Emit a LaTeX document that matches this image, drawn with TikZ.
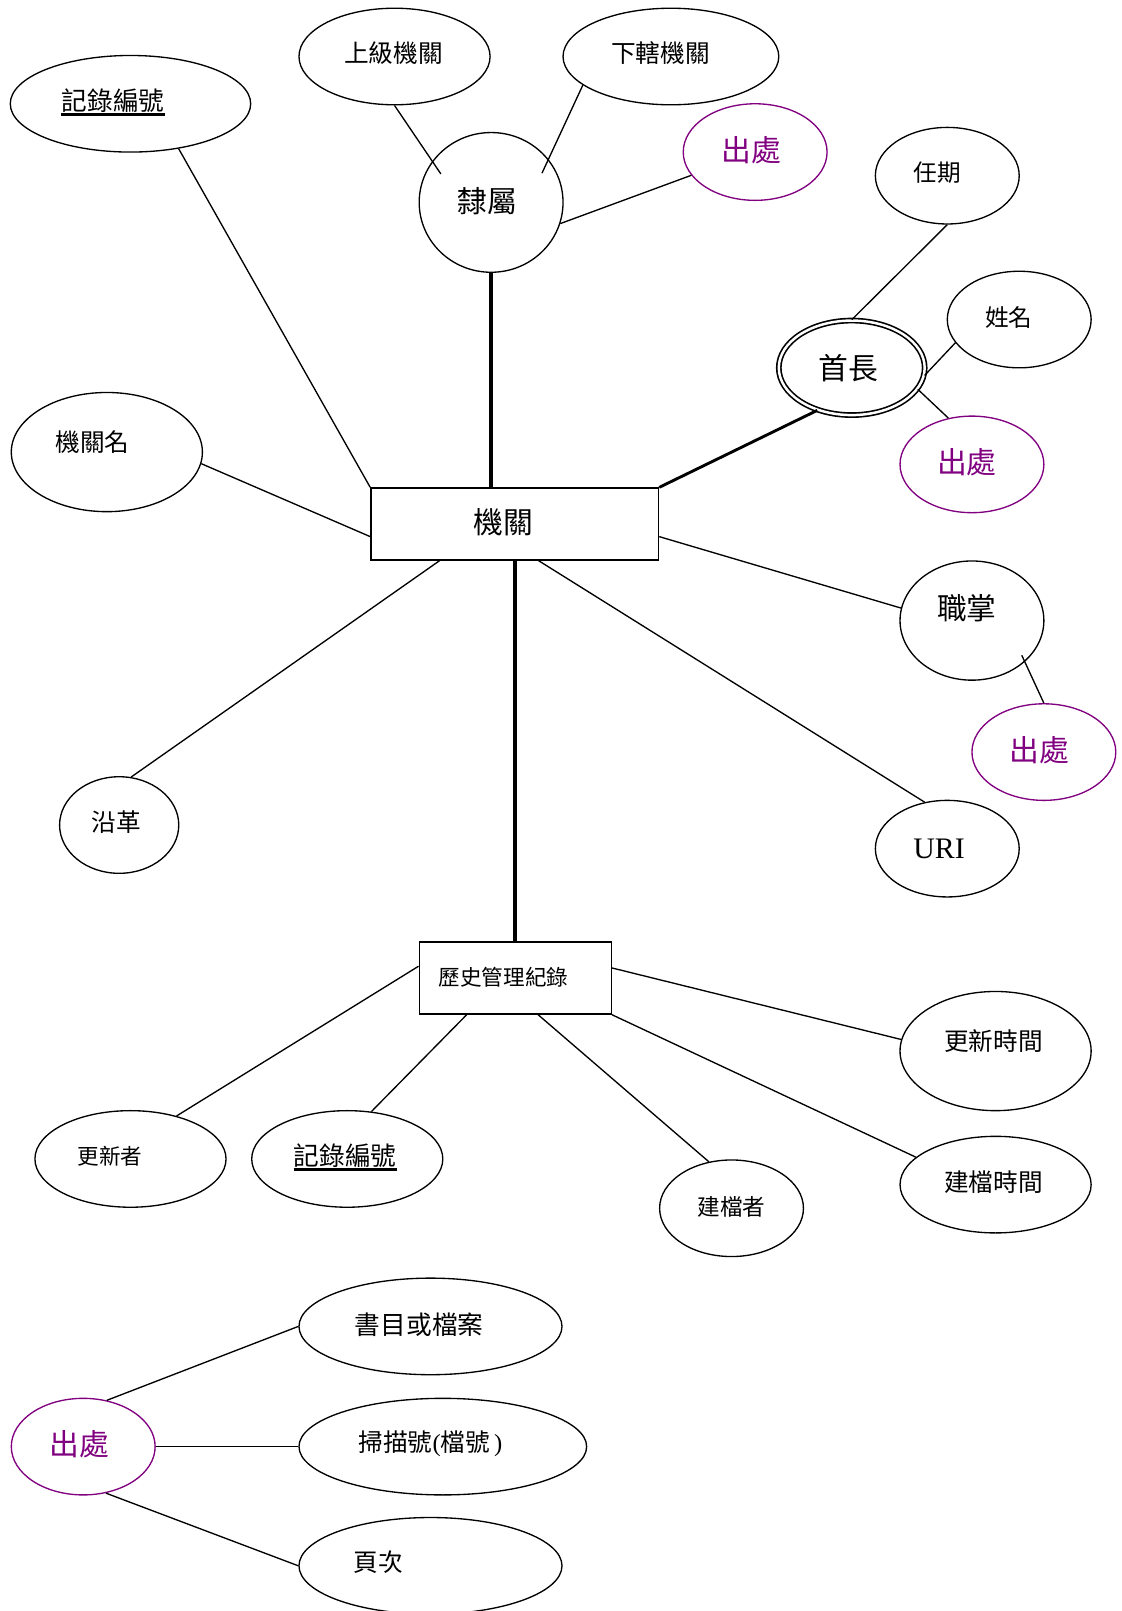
\documentclass[tikz,border=0pt]{standalone}
\usepackage{fontspec}
\setmainfont{Noto Sans CJK TC}
\newfontfamily\uriserif{Liberation Serif}
\usetikzlibrary{shapes.geometric}
\definecolor{srcpurple}{RGB}{128,0,128}
\newcommand\fsz[1]{\fontsize{#1}{#1}\selectfont}
\begin{document}
\begin{tikzpicture}[x=1pt,y=-1pt,
  attr/.style={draw, ellipse, line width=1.3pt, inner sep=0pt},
  srcattr/.style={attr, draw=srcpurple},
  entity/.style={draw, rectangle, line width=1.3pt, inner sep=0pt},
  weak/.style={draw, ellipse, double, line width=1.6pt, double distance=2.4pt, inner sep=0pt},
  txt/.style={inner sep=0pt, font=\fsz{#1}},
  srctxt/.style={txt=29, text=srcpurple},
  conn/.style={line width=1.3pt},
  thick conn/.style={line width=3.8pt},
  mid conn/.style={line width=2.8pt},
  uline/.style={line width=2.4pt}
]
\useasboundingbox (0,0) rectangle (1092,1568);

% ---- entities
\node[entity, minimum width=280, minimum height=70] (jg) at (501,510) {};
\node[txt=29] (jg-t) at (490,508) {機關};
\node[entity, minimum width=187, minimum height=70] (hist) at (501.5,952) {};
\node[txt=21] (hist-t) at (490,951) {歷史管理紀錄};

% ---- top area
\node[attr, minimum width=234, minimum height=94] (jlbh1) at (127,101) {};
\node[txt=25] (jlbh1-t) at (110,98) {記錄編號};
\draw[uline] ([yshift=-1.5pt]jlbh1-t.south west) -- ([yshift=-1.5pt]jlbh1-t.south east);

\node[attr, minimum width=186, minimum height=94] (sjjg) at (384,55) {};
\node[txt=24] (sjjg-t) at (383,52) {上級機關};
\node[attr, minimum width=210, minimum height=94] (xxjg) at (653,55) {};
\node[txt=24] (xxjg-t) at (643,52) {下轄機關};
\node[attr, minimum width=140, minimum height=136] (ls) at (478,197) {};
\node[txt=29] (ls-t) at (474,196) {隸屬};
\node[srcattr, minimum width=140, minimum height=94] (cc1) at (735,148) {};
\node[srctxt] (cc1-t) at (731,146) {出處};

\node[attr, minimum width=140, minimum height=94] (rq) at (922,171) {};
\node[txt=23] (rq-t) at (912,168) {任期};
\node[attr, minimum width=140, minimum height=94] (xm) at (992,311) {};
\node[txt=23] (xm-t) at (982,309) {姓名};
\node[weak, minimum width=142, minimum height=92] (sz) at (829,358) {};
\node[txt=29] (sz-t) at (826,358) {首長};
\node[srcattr, minimum width=140, minimum height=94] (cc2) at (946,452) {};
\node[srctxt] (cc2-t) at (941,450) {出處};

\node[attr, minimum width=186, minimum height=116] (jgm) at (104,440) {};
\node[txt=24] (jgm-t) at (90,430) {機關名};
\node[attr, minimum width=140, minimum height=116] (zz) at (946,604) {};
\node[txt=29] (zz-t) at (941,592) {職掌};
\node[srcattr, minimum width=140, minimum height=94] (cc3) at (1016,732) {};
\node[srctxt] (cc3-t) at (1012,730) {出處};
\node[attr, minimum width=116, minimum height=94] (yg) at (116,803) {};
\node[txt=24] (yg-t) at (113,800) {沿革};
\node[attr, minimum width=140, minimum height=94] (uri) at (922,826) {};
\node[inner sep=0pt, font=\uriserif\fsz{29}] (uri-t) at (914,826) {URI};

% ---- history attributes
\node[attr, minimum width=186, minimum height=116] (gxsj) at (969,1023) {};
\node[txt=24] (gxsj-t) at (967,1013) {更新時間};
\node[attr, minimum width=186, minimum height=94] (jdsj) at (969,1153) {};
\node[txt=24] (jdsj-t) at (967,1151) {建檔時間};
\node[attr, minimum width=186, minimum height=94] (gxz) at (127,1128) {};
\node[txt=21] (gxz-t) at (107,1125) {更新者};
\node[attr, minimum width=186, minimum height=94] (jlbh2) at (338,1128) {};
\node[txt=25] (jlbh2-t) at (336,1125) {記錄編號};
\draw[uline] ([yshift=-1.5pt]jlbh2-t.south west) -- ([yshift=-1.5pt]jlbh2-t.south east);
\node[attr, minimum width=140, minimum height=94] (jdz) at (712,1176) {};
\node[txt=22] (jdz-t) at (712,1175) {建檔者};

% ---- source legend
\node[srcattr, minimum width=140, minimum height=94] (cc4) at (81,1408) {};
\node[srctxt] (cc4-t) at (77,1406) {出處};
\node[attr, minimum width=256, minimum height=94] (smwj) at (419,1291) {};
\node[txt=25] (smwj-t) at (408,1289) {書目或檔案};
\node[attr, minimum width=280, minimum height=94] (smh) at (431,1408) {};
\node[txt=24] (smh-t) at (419,1405) {掃描號{\uriserif(}檔號\,{\uriserif)}};
\node[attr, minimum width=256, minimum height=94] (yc) at (419,1524) {};
\node[txt=24] (yc-t) at (368,1520) {頁次};

% ---- connectors
\draw[conn] (jlbh1.317) -- (jg.north west);
\draw[conn, shorten >=-15pt] (sjjg.south) -- (ls.145);
\draw[conn, shorten >=-15pt] (xxjg.198.6) -- (ls.37.5);
\draw[conn] (cc1.200) -- (ls.343);
\draw[thick conn] (ls.south) -- (ls.south |- jg.north);
\draw[conn] (rq.south) -- (sz.north);
\draw[conn] (xm.200) -- (sz.354);
\draw[conn] (sz.342) -- (cc2.117.5);
\draw[mid conn] (sz.231) -- (jg.north east);
\draw[conn] (jgm.353) -- (jg.185);
\draw[conn] (zz.170) -- (jg.355);
\draw[conn, shorten <=-7pt] (zz.322) -- (cc3.north);
\draw[conn] (yg.76.8) -- (jg.206.6);
\draw[conn] (uri.116) -- (jg.303.3);
\draw[thick conn] (jg.south) -- (jg.south |- hist.north);
\draw[conn] (hist.173.3) -- (gxz.43.8);
\draw[conn] (hist.217) -- (jlbh2.63.4);
\draw[conn] (hist.302.7) -- (jdz.116.6);
\draw[conn] (hist.south east) -- (jdsj.161.8);
\draw[conn] (hist.6.7) -- (gxsj.173.9);
\draw[conn] (cc4.63.9) -- (smwj.west);
\draw[conn] (cc4.east) -- (smh.west);
\draw[conn] (cc4.296.1) -- (yc.west);
\end{tikzpicture}
\end{document}
